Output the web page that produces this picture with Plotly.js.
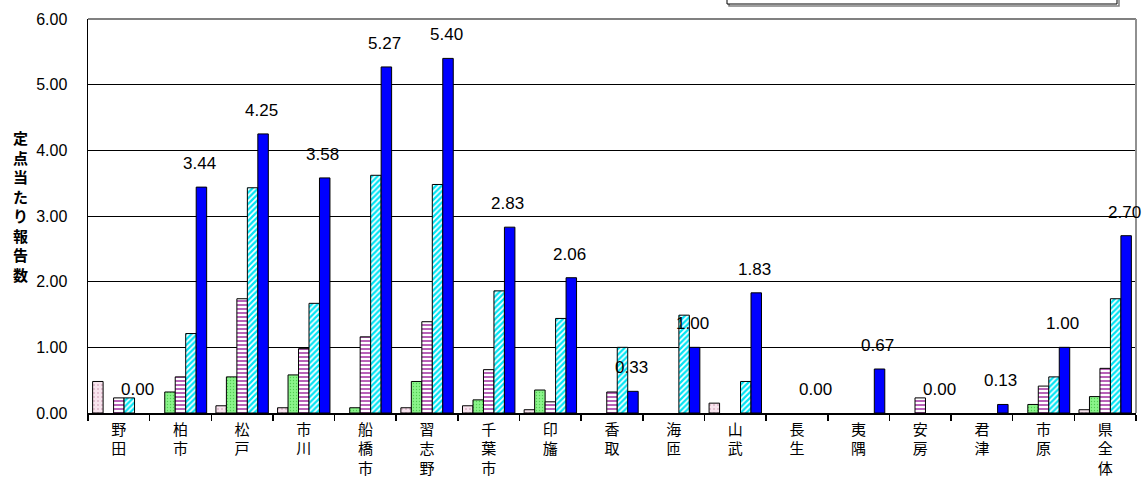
<!DOCTYPE html>
<html>
<head>
<meta charset="utf-8">
<script src="https://cdn.plot.ly/plotly-3.0.1.min.js"></script>
<style>html,body{margin:0;padding:0;background:#fff;}#chart{width:1146px;height:486px;}</style>
</head>
<body>
<div id="chart"></div>
<script>
const categories = ['野田','柏市','松戸','市川','船橋市','習志野','千葉市','印旛','香取','海匝','山武','長生','夷隅','安房','君津','市原','県全体'];
const seriesPink   = [0.48,0,0.11,0.08,0,0.08,0.11,0.05,0,0,0.15,0,0,0,0,0,0.05];
const seriesGreen  = [0,0.32,0.55,0.58,0.08,0.48,0.20,0.35,0,0,0,0,0,0,0,0.13,0.25];
const seriesStripe = [0.23,0.55,1.74,0.98,1.16,1.39,0.66,0.17,0.32,0,0,0,0,0.23,0,0.41,0.68];
const seriesCyan   = [0.23,1.21,3.43,1.67,3.62,3.48,1.86,1.44,1.00,1.49,0.48,0,0,0,0,0.55,1.74];
const seriesBlue   = [0,3.44,4.25,3.58,5.27,5.40,2.83,2.06,0.33,1.00,1.83,0,0.67,0,0.13,1.00,2.70];
const yTitle = '定点当たり報告数';

const tickText = categories.map(c => c.split('').join('<br>'));
const W = 0.17;
const line = {color:'#000', width:1};
function bar(y, off, marker){
  return {type:'bar', x:categories, y:y.map(v => v === 0 ? null : v), width:W, offset:off,
          marker:Object.assign({line:line}, marker), hoverinfo:'skip', showlegend:false};
}
const data = [
  bar(seriesPink, -0.425, {color:'#f6dde9', pattern:{shape:'.', fgcolor:'#dcb4c8', bgcolor:'#f8e4ee', size:4, solidity:0.2}}),
  bar(seriesGreen, -0.255, {color:'#86f286', pattern:{shape:'.', fgcolor:'#50cc50', bgcolor:'#8af48a', size:3, solidity:0.15}}),
  bar(seriesStripe, -0.085, {color:'#ffffff', pattern:{shape:'-', fgcolor:'#b050b0', bgcolor:'#ffffff', size:4, solidity:0.45}}),
  bar(seriesCyan, 0.085, {color:'#c8f8ff', pattern:{shape:'/', fgcolor:'#00e4f4', bgcolor:'#ffffff', size:4, solidity:0.55}}),
  bar(seriesBlue, 0.255, {color:'#0000ff'})
];

const annotations = seriesBlue.map((v,i) => ({
  x: categories[i], y: v, xref:'x', yref:'y', text: v.toFixed(2), showarrow:false,
  xshift: 19, yshift: 12, yanchor:'bottom', xanchor:'center',
  font:{family:'Liberation Sans, Arial, sans-serif', size:17, color:'#000'}
}));
annotations.push({
  xref:'paper', yref:'paper', x:-0.064, y:0.525, xanchor:'center', yanchor:'middle', showarrow:false,
  text: yTitle.split('').join('<br>'),
  font:{family:'Noto Sans CJK JP, sans-serif', size:15, color:'#000', weight:'bold'}
});

const layout = {
  width:1146, height:486,
  margin:{l:88, r:10, t:19, b:73, pad:0},
  paper_bgcolor:'#fff', plot_bgcolor:'#fff',
  barmode:'overlay',
  font:{family:'Liberation Sans, Arial, sans-serif', color:'#000'},
  xaxis:{
    type:'category', tickvals:categories, ticktext:tickText,
    tickson:'boundaries', ticks:'outside', ticklen:6, tickcolor:'#000', tickwidth:1.5,
    showline:true, linecolor:'#000', linewidth:1.5, showgrid:false,
    tickfont:{family:'Noto Sans CJK JP, sans-serif', size:15, color:'#000'},
    ticklabelstandoff:2, range:[-0.5,16.5], fixedrange:true
  },
  yaxis:{
    range:[0,6], dtick:1, tickformat:'.2f', showgrid:true, gridcolor:'#000', gridwidth:1,
    showline:true, linecolor:'#000', linewidth:1.5, ticks:'inside', ticklen:4, tickcolor:'#000',
    zeroline:false, tickfont:{family:'Liberation Sans, Arial, sans-serif', size:16, color:'#000'},
    ticklabelstandoff:16, fixedrange:true
  },
  annotations: annotations,
  shapes:[
    {type:'line', xref:'paper', yref:'paper', x0:0, x1:1, y0:1, y1:1, line:{color:'#808080', width:2}},
    {type:'line', xref:'paper', yref:'paper', x0:1, x1:1, y0:0, y1:1, line:{color:'#909090', width:2}},
    {type:'rect', xref:'paper', yref:'paper', x0:(729-88)/1048, x1:(1119-88)/1048, y0:(413-6)/394, y1:1.2, line:{color:'#808080', width:1.5}, layer:'below'},
    {type:'rect', xref:'paper', yref:'paper', x0:(727-88)/1048, x1:(1117-88)/1048, y0:(413-4)/394, y1:1.2, line:{color:'#000', width:1}, fillcolor:'#fff'}
  ]
};
Plotly.newPlot('chart', data, layout, {staticPlot:true, displayModeBar:false});
</script>
</body>
</html>
